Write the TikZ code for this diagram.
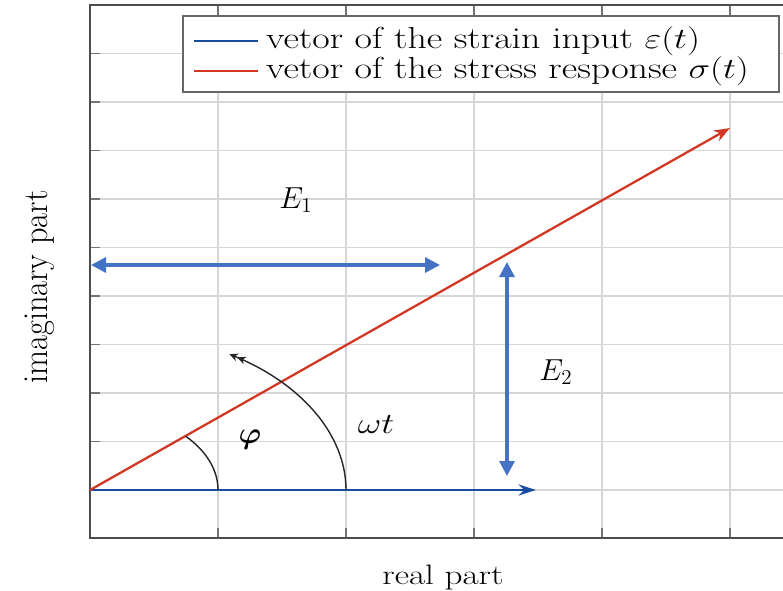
\documentclass[tikz,border=0pt]{standalone}
\usepackage{fontspec}
\usepackage{amsmath,bm}
\usetikzlibrary{arrows.meta}
\definecolor{strainblue}{RGB}{25,75,160}
\definecolor{stressred}{RGB}{210,55,35}
\definecolor{dimblue}{RGB}{68,114,196}
\newcommand{\vsq}[1]{\scalebox{1}[0.8]{#1}}

\begin{document}
\begin{tikzpicture}[x=0.2mm,y=-0.2mm,>=Stealth,
  gridline/.style={draw=black!16,line width=0.6pt},
  tickline/.style={draw=black!55,line width=0.7pt},
  dimarrow/.style={draw=dimblue,fill=dimblue,line width=1.8pt,{Triangle[length=3mm,width=3mm]}-{Triangle[length=3mm,width=3mm]}},
  plottext/.style={font=\fontsize{20}{24}\selectfont,inner sep=1pt},
  legtext/.style={font=\fontsize{21.6}{26}\selectfont,inner sep=1pt,anchor=west},
  mathlabel/.style={font=\fontsize{17}{20}\selectfont,inner sep=1pt}]
\useasboundingbox (0,0) rectangle (783,591);
% grid and ticks
\foreach \gx in {218,346,474,602,730} {
  \draw[gridline] (\gx,5) -- (\gx,538);
  \draw[tickline] (\gx,538) -- (\gx,528);
  \draw[tickline] (\gx,5) -- (\gx,15);
}
\foreach \gy in {53.5,102,150.5,199,247.5,296,344.5,393,441.5,490} {
  \draw[gridline] (90,\gy) -- (783,\gy);
  \draw[tickline] (90,\gy) -- (100,\gy);
}
\draw[black!70,line width=1.1pt] (783,5) -- (90,5) -- (90,538) -- (783,538);

% legend
\node[draw=black!60,fill=white,line width=0.8pt,minimum width=119.2mm,minimum height=15.2mm,inner sep=0pt] (legbox) at (481,54) {};
\coordinate (leg1a) at (194,41);
\coordinate (leg1b) at (258,41);
\coordinate (leg2a) at (194,71);
\coordinate (leg2b) at (258,71);
\draw[strainblue,line width=1.2pt] (leg1a) -- (leg1b);
\draw[stressred,line width=1.2pt] (leg2a) -- (leg2b);
\node[legtext] (leg1) at (264,41) {\vsq{vetor of the strain input $\varepsilon(t)$}};
\node[legtext] (leg2) at (264,71) {\vsq{vetor of the stress response $\sigma(t)$}};

% vectors
\coordinate (O) at (90,490);
\coordinate (epstip) at (536,490);
\coordinate (sigtip) at (730,128);
\draw[strainblue,line width=1.3pt,-{Stealth[length=3.5mm,width=2.2mm]}] (O) -- (epstip);
\draw[stressred,line width=1.3pt,-{Stealth[length=3.2mm,width=2.4mm]}] (O) -- (sigtip);

% E1 and E2
\coordinate (E1left) at (91,265);
\coordinate (E1right) at (440,265);
\coordinate (E2top) at (507,262);
\coordinate (E2bot) at (507,476);
\draw[dimarrow] (E1left) -- (E1right);
\draw[dimarrow] (E2top) -- (E2bot);

% angles
\draw[black!85,line width=0.8pt] (218,490) arc[start angle=0,end angle=41.5,x radius=25.6mm,y radius=16.2mm];
\draw[black!85,line width=0.8pt,-{Stealth[length=1.7mm,width=1.6mm]Stealth[length=1.7mm,width=1.6mm]}] (346,490) arc[start angle=0,end angle=57,x radius=51.2mm,y radius=32.4mm];

% labels
\node[mathlabel] (E1lab) at (296,200) {$E_1$};
\node[mathlabel] (E2lab) at (556,372) {$E_2$};
\node[mathlabel] (philab) at (250,440) {$\bm{\varphi}$};
\node[legtext,anchor=center] (wtlab) at (376,425) {\vsq{$\omega t$}};
\node[plottext] (xlab) at (443,577) {\vsq{real part}};
\node[plottext,rotate=90] (ylab) at (40,287) {\scalebox{0.92}[1]{imaginary part}};
\end{tikzpicture}
\end{document}
